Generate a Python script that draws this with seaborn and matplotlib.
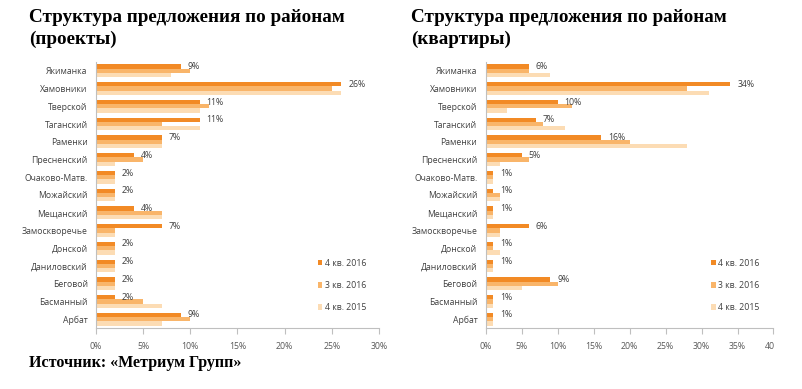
import matplotlib
matplotlib.use("Agg")
import matplotlib.pyplot as plt
from matplotlib.transforms import Bbox, TransformedBbox
from matplotlib.patches import Patch
import seaborn as sns
import pandas as pd

districts = ["Якиманка", "Хамовники", "Тверской", "Таганский", "Раменки",
             "Пресненский", "Очаково-Матв.", "Можайский", "Мещанский",
             "Замоскворечье", "Донской", "Даниловский", "Беговой",
             "Басманный", "Арбат"]
periods = ["4 кв. 2016", "3 кв. 2016", "4 кв. 2015"]

# projects (%)
proj_q4_2016 = [9, 26, 11, 11, 7, 4, 2, 2, 4, 7, 2, 2, 2, 2, 9]
proj_q3_2016 = [10, 25, 12, 7, 7, 5, 2, 2, 7, 2, 2, 2, 2, 5, 10]
proj_q4_2015 = [8, 26, 11, 11, 7, 2, 2, 2, 7, 2, 2, 2, 2, 7, 7]

# apartments (%)
apt_q4_2016 = [6, 34, 10, 7, 16, 5, 1, 1, 1, 6, 1, 1, 9, 1, 1]
apt_q3_2016 = [6, 28, 12, 8, 20, 6, 1, 2, 1, 2, 1, 1, 10, 1, 1]
apt_q4_2015 = [9, 31, 3, 11, 28, 2, 1, 2, 1, 2, 2, 1, 5, 1, 1]

titles = ["Структура предложения по районам\n(проекты)",
          "Структура предложения по районам\n(квартиры)"]
source = "Источник: «Метриум Групп»"
xlims = [30, 40]

colors = ["#F28A25", "#F9B56A", "#FCDCB4"]

sns.set_theme(style="white")
plt.rcParams['font.family'] = ['Open Sans', 'DejaVu Sans']

def long_df(a, b, c):
    rows = []
    for vals, p in zip((a, b, c), periods):
        for d, v in zip(districts, vals):
            rows.append({"district": d, "period": p, "value": v})
    return pd.DataFrame(rows)

dfs = [long_df(proj_q4_2016, proj_q3_2016, proj_q4_2015),
       long_df(apt_q4_2016, apt_q3_2016, apt_q4_2015)]

W, H = 803, 389
fig = plt.figure(figsize=(W / 100, H / 100), dpi=100)
fig.patch.set_facecolor("white")

axes_px = [(96, 379), (485.7, 773.5)]
top_px, bot_px = 62, 328
title_x = [29, 411]

for i, (df, (x0, x1)) in enumerate(zip(dfs, axes_px)):
    ax = fig.add_axes([x0 / W, (H - bot_px) / H, (x1 - x0) / W, (bot_px - top_px) / H])
    sns.barplot(data=df, y="district", x="value", hue="period", orient="h",
                palette=colors, width=0.72, ax=ax, legend=False,
                linewidth=0, saturation=1)
    ax.set_xlim(0, xlims[i])
    ax.set_xticks(range(0, xlims[i] + 1, 5))
    ax.set_xticklabels([f"{t}%" for t in range(0, xlims[i] + 1, 5)])
    ax.set_xlabel("")
    ax.set_ylabel("")
    for s in ["top", "right"]:
        ax.spines[s].set_visible(False)
    for s in ["left", "bottom"]:
        ax.spines[s].set_color("#BFBFBF")
        ax.spines[s].set_linewidth(0.8)
    ax.tick_params(axis="x", direction="out", length=4, width=0.8, color="#BFBFBF",
                   labelsize=6.3, labelcolor="#595959", pad=6, bottom=True)
    ax.tick_params(axis="y", length=0, labelsize=6.2, labelcolor="#404040", pad=6)
    vals = df[df.period == periods[0]]["value"].tolist()
    ax.bar_label(ax.containers[0], labels=[f"{v}%" for v in vals], padding=5,
                 fontsize=6.3, color="#404040")
    handles = [Patch(facecolor=c, edgecolor="none") for c in colors]
    ax.legend(handles, periods, loc="lower left", bbox_to_anchor=(0.755, 0.03),
              frameon=False, fontsize=6.3, handlelength=0.55, handleheight=0.55,
              handletextpad=0.3, labelspacing=1.5, labelcolor="#404040")
    fig.text(title_x[i] / W, 1 - 9.5 / H, titles[i], ha="left", va="top",
             fontsize=13.8, fontweight="bold", family="Liberation Serif",
             linespacing=1.3, color="black")
    if i == 1:
        tick = ax.xaxis.get_major_ticks()[-1]
        clip = TransformedBbox(Bbox([[0, 0], [774 / W, 1]]), fig.transFigure)
        tick.label1.set_clip_box(clip)
        tick.label1.set_clip_on(True)

fig.text(29 / W, 1 - 363 / H, source, ha="left", va="center", fontsize=11.5,
         fontweight="bold", family="Liberation Serif", color="black")

fig.savefig("out.png", dpi=100, facecolor="white")
